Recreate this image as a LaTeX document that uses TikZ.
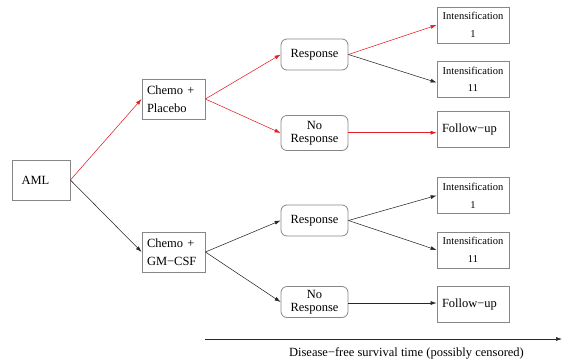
\documentclass[tikz,border=0pt]{standalone}
\usepackage{fontspec}
\setmainfont{Liberation Serif}
\usetikzlibrary{arrows.meta}
\definecolor{armred}{RGB}{228,30,36}
\definecolor{boxgray}{RGB}{135,135,135}
\definecolor{linegray}{RGB}{40,40,40}
\tikzset{
  box/.style={draw=boxgray, line width=0.8pt, inner sep=0pt, minimum width=#1,
    font=\fontsize{12.5}{18}\selectfont},
  box/.default=63pt,
  outcome/.style={draw=boxgray, line width=0.8pt, rounded corners=6pt, inner sep=0pt,
    minimum width=67pt, minimum height=31pt, align=center,
    font=\fontsize{12.5}{12.7}\selectfont},
  intbox/.style={draw=boxgray, line width=0.8pt, inner sep=0pt,
    minimum width=72pt, minimum height=36pt, align=center,
    font=\fontsize{10.5}{17.6}\selectfont},
  fubox/.style={draw=boxgray, line width=0.8pt, inner sep=0pt,
    minimum width=72pt, minimum height=36pt, text width=62pt, align=left,
    font=\fontsize{12.5}{15}\selectfont},
  arm/.style={-{Latex[length=6pt,width=4pt]}, line width=0.55pt},
  redarm/.style={arm, color=armred},
  blackarm/.style={arm, color=linegray},
}
\begin{document}
\begin{tikzpicture}[x=1pt, y=-1pt]
  \useasboundingbox (0,0) rectangle (562,362);

  % root
  \node[box, minimum width=58pt, minimum height=40pt, text width=39pt, align=left]
    (aml) at (41,180) {AML};

  % treatment arms
  \node[box, minimum height=40pt, text width=53pt, align=left]
    (cp) at (173.5,99) {Chemo +\\Placebo};
  \node[box, minimum height=40pt, text width=53pt, align=left]
    (cg) at (173.5,252) {Chemo +\\GM−CSF};

  % responses
  \node[outcome] (r1) at (314.5,54.5) {Response};
  \node[outcome, minimum height=35pt] (n1) at (314.5,133) {No\\Response};
  \node[outcome] (r2) at (314.5,220.5) {Response};
  \node[outcome] (n2) at (314.5,302) {No\\Response};

  % follow-on treatment
  \node[intbox] (i1) at (473,25) {Intensification\\1};
  \node[intbox] (i2) at (473,79.5) {Intensification\\11};
  \node[fubox] (f1) at (473,129) {Follow−up};
  \node[intbox] (i3) at (473,195.5) {Intensification\\1};
  \node[intbox] (i4) at (473,250) {Intensification\\11};
  \node[fubox] (f2) at (473,304) {Follow−up};

  % placebo branch
  \draw[redarm] (aml.east) -- (cp.west);
  \draw[redarm] (cp.east) -- (r1.west);
  \draw[redarm] (cp.east) -- (n1.west);
  \draw[redarm] (r1.east) -- (i1.west);
  \draw[blackarm] (r1.east) -- ([yshift=-3pt]i2.west);
  \draw[redarm] ([yshift=0.3pt]n1.east) -- ([yshift=0.3pt]n1.east -| f1.west);

  % GM-CSF branch
  \draw[blackarm] (aml.east) -- (cg.west);
  \draw[blackarm] (cg.east) -- (r2.west);
  \draw[blackarm] (cg.east) -- (n2.west);
  \draw[blackarm] (r2.east) -- (i3.west);
  \draw[blackarm] (r2.east) -- (i4.west);
  \draw[blackarm] ([yshift=-1pt]n2.east) -- ([yshift=-1pt]n2.east -| f2.west);

  % time axis
  \coordinate (t0) at (205,339);
  \coordinate (t1) at (562,339);
  \draw[blackarm] (t0) -- (t1);
  \node[font=\fontsize{12.5}{15}\selectfont] (tlabel) at (406.5,353)
    {Disease−free survival time (possibly censored)};
\end{tikzpicture}
\end{document}
